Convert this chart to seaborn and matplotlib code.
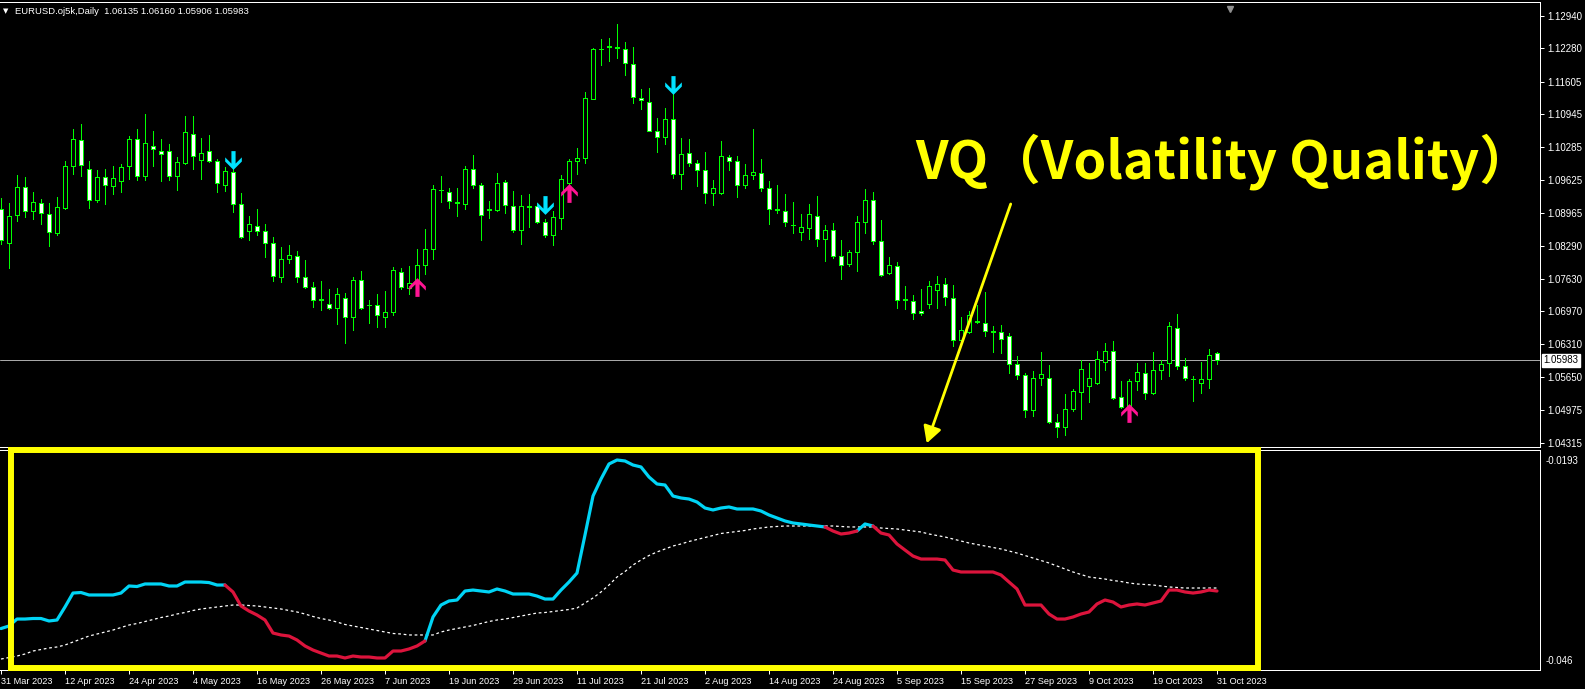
import numpy as np
import pandas as pd
import matplotlib
matplotlib.use("Agg")
import matplotlib.pyplot as plt
import matplotlib.transforms as mtransforms
from matplotlib.patches import Rectangle, FancyArrowPatch
from matplotlib.path import Path
import seaborn as sns

# ---- data (EURUSD daily, 31 Mar - 31 Oct 2023) ----
bar_open = [1.0903, 1.0836, 1.0891, 1.0949, 1.0900, 1.0916, 1.0894, 1.0856, 1.0905, 1.0990,
            1.1042, 1.0985, 1.0921, 1.0969, 1.0951, 1.0961, 1.0990, 1.1044, 1.0970, 1.1031,
            1.1021, 1.1021, 1.0970, 1.0996, 1.1054, 1.1003, 1.1021, 1.1001, 1.0953, 1.0978,
            1.0913, 1.0859, 1.0870, 1.0859, 1.0836, 1.0767, 1.0802, 1.0808, 1.0766, 1.0746,
            1.0721, 1.0713, 1.0703, 1.0725, 1.0685, 1.0760, 1.0709, 1.0709, 1.0686, 1.0695,
            1.0777, 1.0745, 1.0760, 1.0791, 1.0822, 1.0942, 1.0937, 1.0918, 1.0913, 1.0984,
            1.0953, 1.0902, 1.0902, 1.0959, 1.0910, 1.0861, 1.0909, 1.0910, 1.0877, 1.0851,
            1.0885, 1.0957, 1.1000, 1.1006, 1.1126, 1.1226, 1.1230, 1.1231, 1.1226, 1.1196,
            1.1128, 1.1119, 1.1060, 1.1048, 1.1085, 1.0974, 1.1017, 1.0996, 1.0982, 1.0935,
            1.0936, 1.1008, 1.1000, 1.0953, 1.0972, 1.0977, 1.0947, 1.0903, 1.0899, 1.0872,
            1.0857, 1.0866, 1.0890, 1.0843, 1.0861, 1.0808, 1.0793, 1.0816, 1.0877, 1.0921,
            1.0840, 1.0774, 1.0789, 1.0723, 1.0719, 1.0697, 1.0711, 1.0740, 1.0752, 1.0725,
            1.0639, 1.0655, 1.0678, 1.0674, 1.0657, 1.0655, 1.0647, 1.0590, 1.0568, 1.0498,
            1.0562, 1.0562, 1.0473, 1.0463, 1.0500, 1.0534, 1.0547, 1.0552, 1.0594, 1.0617,
            1.0524, 1.0505, 1.0557, 1.0572, 1.0532, 1.0578, 1.0592, 1.0664, 1.0586, 1.0561,
            1.0552, 1.0560, 1.06135]
bar_high = [1.0925, 1.0915, 1.0972, 1.0968, 1.0937, 1.0923, 1.0915, 1.0927, 1.1000, 1.1066,
            1.1075, 1.1000, 1.0982, 1.0984, 1.0990, 1.0994, 1.1051, 1.1066, 1.1095, 1.1062,
            1.1044, 1.1035, 1.1008, 1.1091, 1.1091, 1.1046, 1.1052, 1.1005, 1.0989, 1.0984,
            1.0935, 1.0890, 1.0904, 1.0873, 1.0847, 1.0827, 1.0831, 1.0818, 1.0801, 1.0756,
            1.0758, 1.0742, 1.0745, 1.0734, 1.0766, 1.0779, 1.0720, 1.0732, 1.0738, 1.0787,
            1.0785, 1.0789, 1.0823, 1.0863, 1.0952, 1.0970, 1.0947, 1.0947, 1.0990, 1.1013,
            1.0957, 1.0920, 1.0976, 1.0962, 1.0940, 1.0932, 1.0933, 1.0916, 1.0883, 1.0900,
            1.0972, 1.1005, 1.1027, 1.1140, 1.1228, 1.1247, 1.1248, 1.1277, 1.1241, 1.1230,
            1.1146, 1.1148, 1.1087, 1.1107, 1.1136, 1.1047, 1.1045, 1.1003, 1.1019, 1.0962,
            1.1041, 1.1013, 1.1011, 1.0994, 1.1065, 1.1005, 1.0960, 1.0952, 1.0934, 1.0918,
            1.0894, 1.0914, 1.0930, 1.0871, 1.0875, 1.0841, 1.0821, 1.0890, 1.0943, 1.0938,
            1.0881, 1.0807, 1.0796, 1.0748, 1.0730, 1.0742, 1.0758, 1.0769, 1.0764, 1.0750,
            1.0686, 1.0697, 1.0710, 1.0736, 1.0668, 1.0670, 1.0653, 1.0607, 1.0573, 1.0576,
            1.0616, 1.0589, 1.0491, 1.0530, 1.0541, 1.0599, 1.0592, 1.0617, 1.0634, 1.0637,
            1.0557, 1.0560, 1.0592, 1.0592, 1.0616, 1.0600, 1.0675, 1.0692, 1.0604, 1.0567,
            1.0595, 1.0622, 1.06160]
bar_low = [1.0834, 1.0785, 1.0880, 1.0888, 1.0883, 1.0874, 1.0830, 1.0851, 1.0903, 1.0974,
           1.0971, 1.0906, 1.0918, 1.0914, 1.0933, 1.0937, 1.0964, 1.0963, 1.0963, 1.0991,
           1.0960, 1.0963, 1.0941, 1.0995, 1.0984, 1.0964, 1.0999, 1.0938, 1.0939, 1.0898,
           1.0845, 1.0842, 1.0852, 1.0807, 1.0758, 1.0757, 1.0794, 1.0757, 1.0745, 1.0705,
           1.0699, 1.0702, 1.0672, 1.0633, 1.0660, 1.0702, 1.0673, 1.0665, 1.0665, 1.0690,
           1.0742, 1.0732, 1.0759, 1.0772, 1.0802, 1.0917, 1.0905, 1.0890, 1.0904, 1.0947,
           1.0842, 1.0886, 1.0900, 1.0895, 1.0858, 1.0834, 1.0868, 1.0875, 1.0848, 1.0832,
           1.0864, 1.0955, 1.0975, 1.0997, 1.1125, 1.1195, 1.1203, 1.1209, 1.1173, 1.1118,
           1.1106, 1.1060, 1.1019, 1.1035, 1.0966, 1.0943, 1.0991, 1.0951, 1.0916, 1.0911,
           1.0933, 1.0982, 1.0927, 1.0945, 1.0965, 1.0940, 1.0873, 1.0895, 1.0870, 1.0855,
           1.0842, 1.0844, 1.0830, 1.0799, 1.0804, 1.0763, 1.0789, 1.0779, 1.0855, 1.0834,
           1.0769, 1.0772, 1.0703, 1.0702, 1.0682, 1.0690, 1.0703, 1.0703, 1.0709, 1.0628,
           1.0631, 1.0654, 1.0673, 1.0647, 1.0615, 1.0613, 1.0572, 1.0560, 1.0485, 1.0487,
           1.0548, 1.0472, 1.0444, 1.0448, 1.0497, 1.0480, 1.0515, 1.0551, 1.0578, 1.0520,
           1.0502, 1.0504, 1.0539, 1.0520, 1.0530, 1.0561, 1.0567, 1.0580, 1.0559, 1.0517,
           1.0532, 1.0543, 1.05906]
bar_close = [1.0841, 1.0890, 1.0949, 1.0900, 1.0917, 1.0895, 1.0857, 1.0908, 1.0990, 1.1044,
             1.0992, 1.0922, 1.0969, 1.0952, 1.0966, 1.0988, 1.1044, 1.0970, 1.1036, 1.1025,
             1.1014, 1.0970, 1.0998, 1.1058, 1.1010, 1.1016, 1.1001, 1.0957, 1.0980, 1.0913,
             1.0847, 1.0873, 1.0859, 1.0836, 1.0768, 1.0802, 1.0810, 1.0766, 1.0746, 1.0721,
             1.0722, 1.0703, 1.0732, 1.0685, 1.0760, 1.0703, 1.0710, 1.0690, 1.0695, 1.0780,
             1.0746, 1.0754, 1.0790, 1.0822, 1.0943, 1.0941, 1.0920, 1.0916, 1.0984, 1.0953,
             1.0891, 1.0903, 1.0957, 1.0912, 1.0861, 1.0909, 1.0908, 1.0877, 1.0851, 1.0887,
             1.0964, 1.1000, 1.1006, 1.1128, 1.1226, 1.1227, 1.1232, 1.1228, 1.1198, 1.1129,
             1.1123, 1.1062, 1.1048, 1.1085, 1.0974, 1.1014, 1.0996, 1.0982, 1.0935, 1.0947,
             1.1010, 1.1000, 1.0953, 1.0972, 1.0979, 1.0945, 1.0903, 1.0902, 1.0877, 1.0871,
             1.0868, 1.0893, 1.0843, 1.0861, 1.0808, 1.0790, 1.0816, 1.0877, 1.0921, 1.0840,
             1.0770, 1.0790, 1.0720, 1.0720, 1.0693, 1.0693, 1.0748, 1.0752, 1.0726, 1.0639,
             1.0659, 1.0690, 1.0676, 1.0658, 1.0656, 1.0641, 1.0590, 1.0568, 1.0498, 1.0562,
             1.0570, 1.0473, 1.0463, 1.0500, 1.0536, 1.0580, 1.0563, 1.0602, 1.0617, 1.0523,
             1.0504, 1.0557, 1.0574, 1.0532, 1.0578, 1.0590, 1.0667, 1.0586, 1.0562, 1.0560,
             1.0561, 1.0610, 1.05983]

vq_values = [-0.04180, -0.04146, -0.04053, -0.04053, -0.04046, -0.04046, -0.04079, -0.04066, -0.03892, -0.03706,
             -0.03699, -0.03732, -0.03732, -0.03732, -0.03732, -0.03706, -0.03612, -0.03619, -0.03585, -0.03585,
             -0.03585, -0.03612, -0.03612, -0.03559, -0.03559, -0.03559, -0.03566, -0.03599, -0.03599, -0.03692,
             -0.03879, -0.03946, -0.03999, -0.04066, -0.04240, -0.04266, -0.04280, -0.04333, -0.04413, -0.04467,
             -0.04507, -0.04547, -0.04547, -0.04573, -0.04547, -0.04560, -0.04560, -0.04573, -0.04573, -0.04480,
             -0.04480, -0.04453, -0.04413, -0.04346, -0.04026, -0.03866, -0.03812, -0.03799, -0.03679, -0.03666,
             -0.03679, -0.03692, -0.03652, -0.03679, -0.03719, -0.03719, -0.03719, -0.03746, -0.03786, -0.03786,
             -0.03666, -0.03559, -0.03439, -0.02931, -0.02411, -0.02184, -0.01983, -0.01930, -0.01943, -0.01997,
             -0.02023, -0.02157, -0.02250, -0.02264, -0.02411, -0.02437, -0.02451, -0.02491, -0.02571, -0.02597,
             -0.02571, -0.02557, -0.02584, -0.02584, -0.02584, -0.02611, -0.02664, -0.02704, -0.02744, -0.02771,
             -0.02784, -0.02798, -0.02811, -0.02824, -0.02878, -0.02918, -0.02905, -0.02878, -0.02784, -0.02811,
             -0.02905, -0.02931, -0.03051, -0.03132, -0.03212, -0.03252, -0.03252, -0.03252, -0.03265, -0.03399,
             -0.03425, -0.03425, -0.03425, -0.03425, -0.03425, -0.03465, -0.03559, -0.03652, -0.03866, -0.03866,
             -0.03866, -0.03986, -0.04053, -0.04053, -0.04026, -0.03986, -0.03959, -0.03852, -0.03799, -0.03826,
             -0.03892, -0.03866, -0.03852, -0.03866, -0.03839, -0.03812, -0.03666, -0.03666, -0.03692, -0.03706,
             -0.03692, -0.03666, -0.03679]
vq_ma = [-0.04587, -0.04567, -0.04547, -0.04520, -0.04480, -0.04460, -0.04440, -0.04426, -0.04400, -0.04360,
         -0.04320, -0.04280, -0.04253, -0.04226, -0.04200, -0.04166, -0.04133, -0.04113, -0.04086, -0.04059,
         -0.04033, -0.04013, -0.03986, -0.03966, -0.03939, -0.03919, -0.03906, -0.03892, -0.03879, -0.03866,
         -0.03866, -0.03872, -0.03879, -0.03892, -0.03906, -0.03919, -0.03939, -0.03959, -0.03986, -0.04019,
         -0.04046, -0.04066, -0.04093, -0.04126, -0.04146, -0.04166, -0.04186, -0.04206, -0.04226, -0.04246,
         -0.04253, -0.04266, -0.04266, -0.04266, -0.04266, -0.04226, -0.04200, -0.04180, -0.04159, -0.04139,
         -0.04113, -0.04086, -0.04066, -0.04053, -0.04033, -0.04013, -0.03993, -0.03973, -0.03966, -0.03952,
         -0.03939, -0.03926, -0.03906, -0.03839, -0.03772, -0.03692, -0.03599, -0.03492, -0.03419, -0.03332,
         -0.03265, -0.03205, -0.03158, -0.03118, -0.03078, -0.03051, -0.03018, -0.02991, -0.02965, -0.02938,
         -0.02911, -0.02898, -0.02885, -0.02871, -0.02851, -0.02838, -0.02824, -0.02818, -0.02811, -0.02811,
         -0.02811, -0.02811, -0.02811, -0.02811, -0.02811, -0.02818, -0.02824, -0.02824, -0.02824, -0.02824,
         -0.02838, -0.02845, -0.02851, -0.02865, -0.02878, -0.02891, -0.02918, -0.02938, -0.02958, -0.02985,
         -0.03011, -0.03038, -0.03058, -0.03078, -0.03098, -0.03118, -0.03145, -0.03172, -0.03205, -0.03238,
         -0.03272, -0.03305, -0.03345, -0.03385, -0.03425, -0.03459, -0.03492, -0.03505, -0.03519, -0.03539,
         -0.03552, -0.03572, -0.03585, -0.03592, -0.03599, -0.03612, -0.03625, -0.03632, -0.03639, -0.03639,
         -0.03639, -0.03639, -0.03639]
# bars where the VQ line is in its rising (blue) state
vq_up_runs = [(0, 27), (54, 102), (108, 108)]

down_arrow_bars = [29, 68, 84]
down_arrow_price = [1.10025, 1.09117, 1.11538]
up_arrow_bars = [52, 71, 141]
up_arrow_price = [1.07453, 1.09369, 1.04931]

price_ticks = [1.12940, 1.12280, 1.11605, 1.10945, 1.10285, 1.09625, 1.08965,
               1.08290, 1.07630, 1.06970, 1.06310, 1.05650, 1.04975, 1.04315]
last_price = 1.05983
vq_ticks = [-0.0193, -0.046]
date_labels = ['31 Mar 2023', '12 Apr 2023', '24 Apr 2023', '4 May 2023', '16 May 2023',
               '26 May 2023', '7 Jun 2023', '19 Jun 2023', '29 Jun 2023', '11 Jul 2023',
               '21 Jul 2023', '2 Aug 2023', '14 Aug 2023', '24 Aug 2023', '5 Sep 2023',
               '15 Sep 2023', '27 Sep 2023', '9 Oct 2023', '19 Oct 2023', '31 Oct 2023']
date_step = 8
header = 'EURUSD.oj5k,Daily  1.06135 1.06160 1.05906 1.05983'
title_text = 'VQ（Volatility Quality）'

# ---- style ----
W, H, DPI = 1585, 689, 100
GREEN = '#00ff00'
CYAN = '#00d4f5'
CRIMSON = '#dc143c'
PINK = '#ff1493'
ARROW_CYAN = '#00e1ff'
YELLOW = '#ffff00'
PX = 72.0 / DPI  # one pixel in points

sns.set_theme(style="dark", rc={"figure.facecolor": "black", "axes.facecolor": "black",
                                "axes.edgecolor": "white", "text.color": "white"})
plt.rcParams['font.family'] = ['Liberation Sans', 'DejaVu Sans']


def fx(px):
    return px / W


def fy(py):
    return 1 - py / H


fig = plt.figure(figsize=(W / DPI, H / DPI), dpi=DPI)
fig.patch.set_facecolor('black')

# price scale: 1.12940 sits 15.5 px from the top, 4957 px per 1.0
p_ref, p_px, p_scale = 1.1294, 15.5, 4957.0
ax = fig.add_axes([0, fy(446.5), fx(1540), (446.5 - 2) / H])
ax.set_facecolor('black')
ax.set_ylim(p_ref - (446.5 - p_px) / p_scale, p_ref + (p_px - 2) / p_scale)
ax.set_xlim(-0.125, 192.375)

n = len(bar_open)
bars = np.arange(n)

# candles
ax.vlines(bars, bar_low, bar_high, color=GREEN, lw=PX, zorder=2, antialiased=False)
for i in range(n):
    o, c = bar_open[i], bar_close[i]
    lo, hi = min(o, c), max(o, c)
    face = 'white' if c < o else 'black'
    ax.add_patch(Rectangle((i - 0.25, lo), 0.5, max(hi - lo, 0.00003), facecolor=face,
                           edgecolor=GREEN, lw=PX, zorder=3, antialiased=False))

ax.axhline(last_price, color='#a8a8a8', lw=PX, zorder=1)

# signal arrows (thick arrow glyphs)
down_verts = [(-2, 9), (2, 9), (2, -3), (8, 3), (8, -1), (0, -9), (-8, -1), (-8, 3), (-2, -3), (-2, 9)]
down_path = Path(down_verts, [Path.MOVETO] + [Path.LINETO] * 8 + [Path.CLOSEPOLY])
up_path = Path([(x, -y) for x, y in down_verts], down_path.codes)
ax.scatter(down_arrow_bars, down_arrow_price, marker=down_path, s=13.5 ** 2, color=ARROW_CYAN,
           linewidths=0, zorder=5)
ax.scatter(up_arrow_bars, up_arrow_price, marker=up_path, s=13.5 ** 2, color=PINK,
           linewidths=0, zorder=5)

ax.yaxis.tick_right()
ax.set_yticks(price_ticks)
ax.set_yticklabels([f'{v:.5f}' for v in price_ticks])
ax.tick_params(axis='y', colors='white', labelsize=7, length=3, width=PX, pad=2,
               right=True, left=False)
ax.set_xticks([])
ax.spines['left'].set_visible(False)
for s in ['top', 'right', 'bottom']:
    ax.spines[s].set_color('white')
    ax.spines[s].set_linewidth(PX)
ax.grid(False)

ax.annotate(f'{last_price:.5f}', xy=(1.0, last_price),
            xycoords=mtransforms.blended_transform_factory(ax.transAxes, ax.transData),
            xytext=(2.5, 0), textcoords='offset points', ha='left', va='center',
            fontsize=7, color='black',
            bbox=dict(boxstyle='square,pad=0.12', fc='white', ec='white'))

# chart-shift marker at top
ax.plot([153.6], [0.985], marker='v', ms=5, color='#909090',
        transform=mtransforms.blended_transform_factory(ax.transData, ax.transAxes),
        clip_on=False)

# ---- VQ sub window ----
vq_ref, vq_px, vq_scale = -0.0193, 460.0, 0.0001335
ax2 = fig.add_axes([0, fy(670), fx(1540), 220 / H])
ax2.set_facecolor('black')
ax2.set_xlim(-0.125, 192.375)
ax2.set_ylim(vq_ref - (670 - vq_px) * vq_scale, vq_ref + (vq_px - 450) * vq_scale)

up = np.zeros(n, dtype=bool)
for a, b in vq_up_runs:
    up[a:b + 1] = True
seg_up = [bool(up[j] or up[j + 1]) for j in range(n - 1)]
rows = []
run = 0
for j in range(n - 1):
    if j > 0 and seg_up[j] != seg_up[j - 1]:
        run += 1
    trend = 'up' if seg_up[j] else 'down'
    rows.append((run, trend, j, vq_values[j]))
    rows.append((run, trend, j + 1, vq_values[j + 1]))
vq_df = pd.DataFrame(rows, columns=['run', 'trend', 'bar', 'vq']).drop_duplicates()

sns.lineplot(x=bars, y=vq_ma, ax=ax2, color='white', lw=0.9, linestyle=(0, (2.2, 2.2)),
             legend=False)
sns.lineplot(data=vq_df, x='bar', y='vq', hue='trend', units='run', estimator=None, sort=False,
             palette={'up': CYAN, 'down': CRIMSON}, lw=2.3, legend=False, ax=ax2)

ax2.yaxis.tick_right()
ax2.set_yticks(vq_ticks)
ax2.set_yticklabels([f'{v:g}' for v in vq_ticks])
ax2.tick_params(axis='y', colors='white', labelsize=7, length=0, pad=4, right=True, left=False)
tick_bars = [k * date_step for k in range(len(date_labels))]
ax2.set_xticks(tick_bars)
ax2.set_xticklabels(date_labels, ha='left')
ax2.tick_params(axis='x', colors='white', labelsize=6.6, length=3, width=PX, pad=2,
                bottom=True)
ax2.set_xlabel('')
ax2.set_ylabel('')
ax2.spines['left'].set_visible(False)
for s in ['top', 'right', 'bottom']:
    ax2.spines[s].set_color('white')
    ax2.spines[s].set_linewidth(PX)
ax2.grid(False)

# ---- header ----
fig.text(fx(15), fy(11), header, fontsize=6.8, color='white', va='center', ha='left')
fig.text(fx(6), fy(11), '▼', fontsize=5, color='white', va='center', ha='center',
         family=['DejaVu Sans'])

# ---- yellow annotation ----
fig.add_artist(Rectangle((fx(11), fy(668)), fx(1257.5) - fx(11), (668 - 450) / H,
                         transform=fig.transFigure, fill=False, ec=YELLOW, lw=4.3))
fig.add_artist(FancyArrowPatch((fx(1010.7), fy(204)), (fx(926.7), fy(443.3)),
                               transform=fig.transFigure,
                               arrowstyle='-|>,head_length=10,head_width=5.5',
                               color=YELLOW, lw=2.0, shrinkA=0, shrinkB=0))
t = fig.text(fx(915), fy(178), title_text, fontsize=46, color=YELLOW, ha='left', va='baseline',
             family=['Noto Sans CJK JP', 'DejaVu Sans'], fontweight='bold')
fig.canvas.draw()
bb = t.get_window_extent()
t.set_fontsize(46 * 616.0 / bb.width)

fig.savefig('out.png', dpi=DPI, facecolor='black')
